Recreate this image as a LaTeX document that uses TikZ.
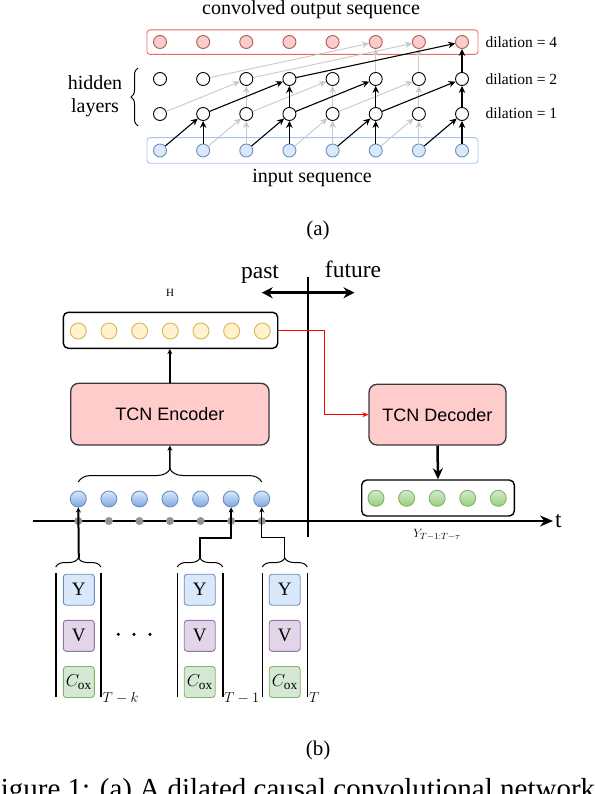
\documentclass[tikz,border=0pt]{standalone}
\usepackage{fontspec}
\setmainfont{Liberation Serif}
\newfontfamily\sansf{Liberation Sans}
\usetikzlibrary{arrows.meta,decorations.pathreplacing}
\definecolor{rfill}{HTML}{F8CECC}
\definecolor{rdraw}{HTML}{B85450}
\definecolor{rrect}{HTML}{EA6B66}
\definecolor{bfill}{HTML}{DAE8FC}
\definecolor{bdraw}{HTML}{6C8EBF}
\definecolor{brect}{HTML}{A9C4EB}
\definecolor{lgray}{HTML}{C8C8C8}
\definecolor{yfill}{HTML}{FFF2CC}
\definecolor{ydraw}{HTML}{D6B656}
\definecolor{tcnfill}{HTML}{FFCCCC}
\definecolor{tcndraw}{HTML}{36393D}
\definecolor{gfill}{HTML}{D5E8D4}
\definecolor{gdraw}{HTML}{82B366}
\definecolor{gbot}{HTML}{97D077}
\definecolor{bbot}{HTML}{7EA6E0}
\definecolor{vfill}{HTML}{E1D5E7}
\definecolor{vdraw}{HTML}{9673A6}
\begin{document}
\begin{tikzpicture}[x=1pt,y=-1pt,
  fs/.style={font=\fontsize{#1}{#1}\selectfont},
  an/.style={circle,minimum size=13pt,inner sep=0pt,line width=0.9pt},
  redn/.style={an,fill=rfill,draw=rdraw},
  hidn/.style={an,fill=white,draw=black},
  inn/.style={an,fill=bfill,draw=bdraw},
  garr/.style={draw=lgray,line width=0.9pt,-{Stealth[length=7pt,width=6.5pt]}},
  barr/.style={draw=black,line width=1.1pt,-{Stealth[length=7pt,width=6.5pt]}},
  seqbox/.style={rounded corners=3pt,line width=0.9pt,inner sep=0pt},
  barbox/.style={draw,line width=1.4pt,rounded corners=5pt,inner sep=0pt},
  tcn/.style={draw=tcndraw,fill=tcnfill,line width=1.3pt,rounded corners=8pt,inner sep=0pt,font=\sansf\fontsize{18}{18}\selectfont},
  bc/.style={circle,minimum size=16pt,inner sep=0pt,line width=0.9pt},
  ycirc/.style={bc,fill=yfill,draw=ydraw},
  bcirc/.style={bc,top color=bfill,bottom color=bbot,draw=bdraw},
  gcirc/.style={bc,top color=gfill,bottom color=gbot,draw=gdraw},
  gdot/.style={circle,minimum size=8pt,inner sep=0pt,fill=gray!85},
  feat/.style={rounded corners=3pt,line width=0.9pt,minimum width=31pt,minimum height=31pt,inner sep=0pt,fs=19},
  yb/.style={feat,fill=bfill,draw=bdraw},
  vb/.style={feat,fill=vfill,draw=vdraw},
  cb/.style={feat,fill=gfill,draw=gdraw},
  brc/.style={decorate,decoration={brace,amplitude=9pt},line width=1pt},
  colbar/.style={line width=1.6pt},
  smallarr/.style={-{Stealth[length=5pt,width=5pt]}},
]
\useasboundingbox (0,0) rectangle (594,794);

% ---------------- panel (a) ----------------
\node[anchor=base,fs=20] (ttl) at (311,14.5) {convolved output sequence};
\node[seqbox,draw=rrect,minimum width=331pt,minimum height=24.5pt] (outrect) at (312.5,42.2) {};
\node[seqbox,draw=brect,minimum width=331pt,minimum height=25.6pt] (inrect) at (312.5,150.5) {};
\foreach \i in {0,...,7}{
  \node[redn] (l3n\i) at ({160+43.143*\i},42) {};
  \node[hidn] (l2n\i) at ({160+43.143*\i},79) {};
  \node[hidn] (l1n\i) at ({160+43.143*\i},114) {};
  \node[inn]  (l0n\i) at ({160+43.143*\i},150.5) {};
}
% gray connections
\foreach \a/\b in {1/2,2/2,3/4,4/4,5/6,6/6} \draw[garr] (l0n\a) -- (l1n\b);
\foreach \a/\b in {0/2,2/2,2/4,4/4,4/6,6/6} \draw[garr] (l1n\a) -- (l2n\b);
\foreach \a/\b in {1/5,5/5,2/6,6/6} \draw[garr] (l2n\a) -- (l3n\b);
% black connections
\foreach \a/\b in {0/1,1/1,2/3,3/3,4/5,5/5,6/7,7/7} \draw[barr] (l0n\a) -- (l1n\b);
\foreach \a/\b in {1/3,3/3,3/5,5/5,5/7,7/7} \draw[barr] (l1n\a) -- (l2n\b);
\foreach \a/\b in {3/7,7/7} \draw[barr] (l2n\a) -- (l3n\b);

\node[anchor=west,fs=15.5] (dl4) at (482,42) {dilation = 4};
\node[anchor=west,fs=15.5] (dl2) at (482,79) {dilation = 2};
\node[anchor=west,fs=15.5] (dl1) at (482,113) {dilation = 1};
\node[anchor=base,fs=20] (insq) at (312,183) {input sequence};
\node[anchor=base,fs=20] (hid1) at (95,90) {hidden};
\node[anchor=base,fs=20] (hid2) at (95,113) {layers};
\draw[brc,decoration={amplitude=7pt}] (138,126) -- (138,68);
\node[fs=21] (laba) at (318,230) {(a)};

% ---------------- panel (b) ----------------
\node[anchor=base,fs=23.5] (past) at (260,278) {past};
\node[anchor=base,fs=23.5] (fut) at (353,277.5) {future};
\coordinate (pa) at (261.7,292.7);
\coordinate (fa) at (354.5,292.7);
\draw[line width=3pt,{Stealth[length=11pt,width=11pt]}-{Stealth[length=11pt,width=11pt]}] (pa) -- (fa);
\coordinate (vt) at (308.3,276.7);
\coordinate (vb) at (308.3,536.7);
\draw[line width=2pt] (vt) -- (vb);

\node[fs=11] (hlab) at (170,293) {H};
\node[barbox,minimum width=214.4pt,minimum height=36pt] (hbar) at (170.5,330.3) {};
\foreach \i in {0,...,6} \node[ycirc] (h\i) at ({78.3+30.67*\i},331) {};

\node[tcn,minimum width=198.3pt,minimum height=61.7pt] (enc) at (169.85,414.15) {TCN Encoder};
\node[tcn,minimum width=137pt,minimum height=60.7pt] (dec) at (437.5,414.65) {TCN Decoder};
\draw[line width=1.5pt,smallarr] (enc.north) -- (enc.north |- hbar.south);
\draw[red,line width=1pt,-{Stealth[length=6pt,width=5pt]}] (hbar.east) -- ++(45.6,0) |- (dec.west);

\node[barbox,minimum width=152.6pt,minimum height=36pt] (gbar) at (438,498) {};
\foreach \i in {0,...,4} \node[gcirc] (g\i) at ({376+30.57*\i},498.3) {};
\draw[line width=2.5pt,-{Stealth[length=11pt,width=10pt]}] (dec.south) -- (gbar.north);

% time axis
\coordinate (t0) at (33,521);
\coordinate (t1) at (553,521);
\draw[line width=1.3pt,-{Stealth[length=13pt,width=11pt]}] (t0) -- (t1);
\node[anchor=base west,fs=23.5,inner sep=0pt] (tlab) at (555,527) {t};
\node[fs=13] (ylab) at (437,535) {$Y_{T-1:T-\tau}$};

\foreach \i in {0,...,6}{
  \node[gdot] (d\i) at ({78.3+30.57*\i},521) {};
  \node[bcirc] (b\i) at ({78.3+30.57*\i},499) {};
}
\draw[brc,decoration={amplitude=13pt}] (78.3,482) -- (261.7,482);
\coordinate (ktop) at (170,469);
\draw[line width=1.5pt,smallarr] (ktop) -- (enc.south);

% feature columns
\foreach \n/\l/\r/\bx in {1/55.7/100.9/78.8, 2/177.3/222.7/199.7, 3/262.3/307.3/284.7}{
  \draw[colbar] (\l,573.3) -- (\l,696.7);
  \draw[colbar] (\r,573.3) -- (\r,696.7);
  \draw[brc] (\l,567) -- (\r,567);
  \node[yb] (y\n) at (\bx,589.7) {Y};
  \node[vb] (v\n) at (\bx,635.8) {V};
  \node[cb] (c\n) at (\bx,682) {$C_{\mathrm{ox}}$};
  \coordinate (k\n) at (\bx,558.5);
}
\draw[line width=2pt,smallarr] (k1) -- (b0.south);
\draw[line width=2pt,smallarr] (k2) -- ++(0,-21) -| (b5.south);
\draw[line width=1pt,smallarr] (k3) -- ++(0,-21.5) -| (b6.south);

\node[anchor=west,fs=14,inner sep=1pt] (lk) at (101.5,698) {$T-k$};
\node[anchor=west,fs=14,inner sep=1pt] (l1) at (223,698) {$T-1$};
\node[anchor=west,fs=14,inner sep=1pt] (lT) at (308,698) {$T$};
\foreach \x in {118.3,134,150} \fill (\x,634.3) circle (1.7pt);

\node[fs=21] (labb) at (318,750) {(b)};
\node[anchor=base west,fs=29,inner sep=0pt] (cap) at (-15.5,798) {Figure 1: (a) A dilated causal convolutional network};
\end{tikzpicture}
\end{document}
